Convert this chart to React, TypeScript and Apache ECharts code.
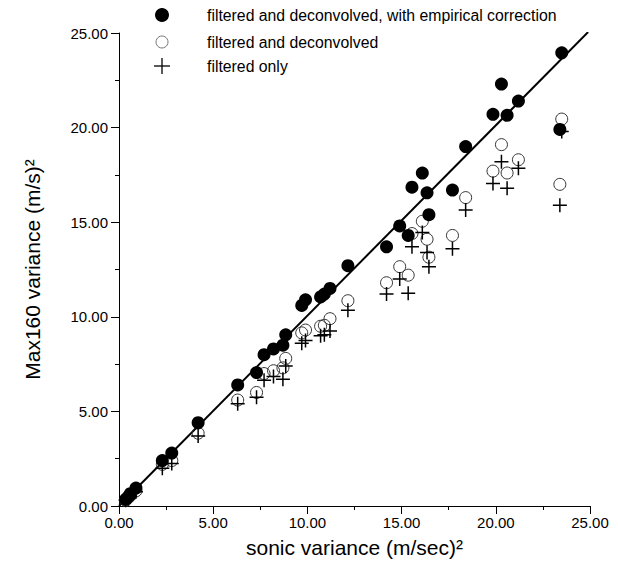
import React, { useEffect, useRef } from "react";
import * as echarts from "echarts";

const sonicX = [0.35, 0.5, 0.6, 0.9, 2.3, 2.8, 4.2, 6.3, 7.3, 7.7, 8.2, 8.7, 8.85, 9.7, 9.9, 10.7, 10.9, 11.2, 12.15, 14.2, 14.9, 15.35, 15.55, 16.1, 16.35, 16.45, 17.7, 18.4, 19.85, 20.3, 20.6, 21.2, 23.4, 23.5];
const correctedY = [0.35, 0.5, 0.65, 0.95, 2.4, 2.8, 4.4, 6.4, 7.05, 8.0, 8.3, 8.5, 9.05, 10.6, 10.9, 11.05, 11.2, 11.5, 12.7, 13.7, 14.8, 14.3, 16.85, 17.6, 16.55, 15.4, 16.7, 19.0, 20.7, 22.3, 20.65, 21.4, 19.9, 23.95];
const deconvY = [0.3, 0.45, 0.55, 0.8, 2.2, 2.4, 3.85, 5.6, 6.0, 7.0, 7.15, 7.3, 7.8, 9.15, 9.3, 9.5, 9.55, 9.9, 10.85, 11.8, 12.65, 12.2, 14.4, 15.05, 14.1, 13.15, 14.3, 16.3, 17.7, 19.1, 17.6, 18.3, 17.0, 20.45];
const filteredY = [0.3, 0.4, 0.5, 0.75, 2.0, 2.25, 3.7, 5.4, 5.75, 6.65, 6.85, 6.7, 7.4, 8.6, 8.75, 9.0, 9.05, 9.25, 10.35, 11.2, 12.0, 11.25, 13.7, 14.45, 13.4, 12.65, 13.6, 15.65, 17.05, 18.2, 16.8, 17.85, 15.9, 19.8];
const fitX = [0, 24.9];
const fitY = [0, 25.05];

const legendLabels = [
  "filtered and deconvolved, with empirical correction",
  "filtered and deconvolved",
  "filtered only",
];

const FONT = "'Liberation Sans', Arial, Helvetica, sans-serif";
const CROSS = "path://M6,0L6,12M0,6L12,6";

export default function App() {
  const ref = useRef<HTMLDivElement>(null);
  useEffect(() => {
    if (!ref.current) return;
    const chart = echarts.init(ref.current, null, { renderer: "svg" });
    const zip = (ys: number[]) => sonicX.map((x, i) => [x, ys[i]]);
    const axisCommon = {
      min: 0,
      max: 25,
      interval: 5,
      axisLine: { show: true, lineStyle: { color: "#000", width: 1 } },
      axisTick: { show: true, inside: false, length: 8, lineStyle: { color: "#000" } },
      minorTick: { show: true, splitNumber: 2, length: 4, lineStyle: { color: "#000" } },
      splitLine: { show: false },
      axisLabel: {
        color: "#000",
        fontSize: 15,
        fontFamily: FONT,
        formatter: (v: number) => v.toFixed(2),
      },
      nameLocation: "middle" as const,
      nameTextStyle: { color: "#000", fontSize: 21, fontFamily: FONT },
    };
    const ly = [15, 42, 66];
    chart.setOption({
      animation: false,
      backgroundColor: "#fff",
      grid: { left: 119, top: 33, width: 471, height: 473 },
      xAxis: { type: "value", ...axisCommon, name: "sonic variance (m/sec)²", nameGap: 31, axisLabel: { ...axisCommon.axisLabel, margin: 9 } },
      yAxis: { type: "value", ...axisCommon, name: "Max160 variance (m/s)²", nameGap: 76, axisLabel: { ...axisCommon.axisLabel, margin: 11 } },
      graphic: [
        { type: "circle", shape: { cx: 162, cy: ly[0], r: 7 }, style: { fill: "#000" } },
        { type: "circle", shape: { cx: 162, cy: ly[1], r: 6 }, style: { fill: "none", stroke: "#777", lineWidth: 1 } },
        { type: "line", shape: { x1: 154, y1: ly[2], x2: 170, y2: ly[2] }, style: { stroke: "#000", lineWidth: 1.3 } },
        { type: "line", shape: { x1: 162, y1: ly[2] - 8, x2: 162, y2: ly[2] + 8 }, style: { stroke: "#000", lineWidth: 1.3 } },
        ...legendLabels.map((t, i) => ({
          type: "text",
          x: 207,
          y: ly[i],
          style: { text: t, fill: "#000", fontSize: 15.8, fontFamily: FONT, verticalAlign: "middle" },
        })),
      ],
      series: [
        {
          type: "line",
          data: fitX.map((x, i) => [x, fitY[i]]),
          symbol: "none",
          lineStyle: { color: "#000", width: 2 },
          z: 1,
        },
        {
          type: "scatter",
          name: legendLabels[1],
          data: zip(deconvY),
          symbol: "circle",
          symbolSize: 12,
          itemStyle: { color: "rgba(0,0,0,0)", borderColor: "#333", borderWidth: 1, opacity: 1 },
          z: 2,
        },
        {
          type: "scatter",
          name: legendLabels[0],
          data: zip(correctedY),
          symbol: "circle",
          symbolSize: 13,
          itemStyle: { color: "#000", opacity: 1 },
          z: 3,
        },
        {
          type: "scatter",
          name: legendLabels[2],
          data: zip(filteredY),
          symbol: CROSS,
          symbolSize: 14,
          itemStyle: { color: "none", borderColor: "#000", borderWidth: 1.5, opacity: 1 },
          z: 4,
        },
      ],
    });
    return () => chart.dispose();
  }, []);
  return <div ref={ref} style={{ width: 618, height: 573, position: "absolute", left: 0, top: 0 }} />;
}
